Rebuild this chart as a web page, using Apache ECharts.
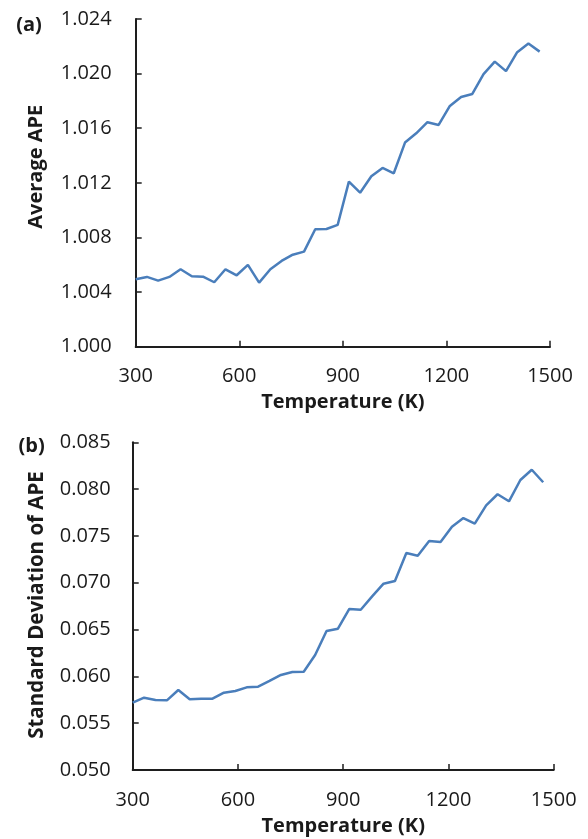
<!DOCTYPE html>
<html>
<head>
<meta charset="utf-8">
<script src="https://cdn.jsdelivr.net/npm/echarts@6/dist/echarts.min.js"></script>
<style>
html,body{margin:0;padding:0;background:#fff;}
#c{width:588px;height:839px;}
</style>
</head>
<body>
<div id="c"></div>
<script>
const temperatures = [300, 332.5, 365, 397.5, 430, 462.5, 495, 527.5, 560, 592.5, 625, 657.5, 690, 722.5, 755, 787.5, 820, 852.5, 885, 917.5, 950, 982.5, 1015, 1047.5, 1080, 1112.5, 1145, 1177.5, 1210, 1242.5, 1275, 1307.5, 1340, 1372.5, 1405, 1437.5, 1470];
const averageAPE = [1.00494, 1.00511, 1.00484, 1.00511, 1.00567, 1.00516, 1.00513, 1.00472, 1.00567, 1.00523, 1.00599, 1.00469, 1.00567, 1.00628, 1.00674, 1.00696, 1.00860, 1.00862, 1.00892, 1.01209, 1.01128, 1.01248, 1.01309, 1.01270, 1.01495, 1.01563, 1.01644, 1.01624, 1.01763, 1.01829, 1.01851, 1.01996, 1.02088, 1.02018, 1.02157, 1.02220, 1.02161];
const stdDevAPE = [0.05719, 0.05772, 0.05748, 0.05744, 0.05854, 0.05755, 0.05762, 0.05762, 0.05826, 0.05844, 0.05883, 0.05890, 0.05951, 0.06015, 0.06047, 0.06050, 0.06228, 0.06485, 0.06509, 0.06720, 0.06712, 0.06855, 0.06990, 0.07019, 0.07318, 0.07289, 0.07446, 0.07435, 0.07599, 0.07691, 0.07631, 0.07827, 0.07945, 0.07870, 0.08097, 0.08207, 0.08073];
const xTicks = [300, 600, 900, 1200, 1500];
const yTicksA = [1.000, 1.004, 1.008, 1.012, 1.016, 1.020, 1.024];
const yTicksB = [0.050, 0.055, 0.060, 0.065, 0.070, 0.075, 0.080, 0.085];

const FONT = 'Open Sans';
const AX = '#1e1e1e';
const TXT = '#1a1a1a';
const BLUE = '#4a7ebb';

function pairs(xs, ys){ return xs.map((x,i)=>[x, ys[i]]); }

function xAxisCfg(gi){
  return {
    gridIndex: gi, type:'value',
    min: xTicks[0], max: xTicks[xTicks.length-1], interval: xTicks[1]-xTicks[0],
    name: 'Temperature (K)', nameLocation:'middle', nameGap: 46,
    nameTextStyle:{fontFamily:FONT, fontSize:20, fontWeight:'bold', color:TXT},
    axisLine:{show:true, lineStyle:{color:AX, width:2}},
    axisTick:{show:true, inside:true, length:6, lineStyle:{color:AX, width:1.5}},
    axisLabel:{fontFamily:FONT, fontSize:20, color:TXT, margin:20, formatter:v=>String(v)},
    splitLine:{show:false}
  };
}
function yAxisCfg(gi, ticks, margin){
  return {
    gridIndex: gi, type:'value',
    min: ticks[0], max: ticks[ticks.length-1], interval: +(ticks[1]-ticks[0]).toFixed(6),
    axisLine:{show:true, lineStyle:{color:AX, width:2}},
    axisTick:{show:true, inside:true, length:6, lineStyle:{color:AX, width:1.5}},
    axisLabel:{fontFamily:FONT, fontSize:20, color:TXT, margin:margin, formatter:v=>v.toFixed(3)},
    splitLine:{show:false}
  };
}

const chart = echarts.init(document.getElementById('c'), null, {renderer:'canvas'});
chart.setOption({
  backgroundColor:'#fff',
  animation:false,
  grid:[
    {left:135.7, right:38, top:19, bottom:492.3},
    {left:132.7, right:34.3, top:442.3, bottom:69}
  ],
  xAxis:[xAxisCfg(0), xAxisCfg(1)],
  yAxis:[yAxisCfg(0, yTicksA, 24), yAxisCfg(1, yTicksB, 22)],
  series:[
    {type:'line', xAxisIndex:0, yAxisIndex:0, data:pairs(temperatures, averageAPE), showSymbol:false, lineStyle:{color:BLUE, width:2.5}, itemStyle:{color:BLUE}},
    {type:'line', xAxisIndex:1, yAxisIndex:1, data:pairs(temperatures, stdDevAPE), showSymbol:false, lineStyle:{color:BLUE, width:2.5}, itemStyle:{color:BLUE}}
  ],
  graphic:[
    {type:'text', x:36.7, y:166.7, rotation:Math.PI/2,
     style:{text:'Average APE', font:'bold 20px "Open Sans"', fill:TXT, align:'center', verticalAlign:'middle'}},
    {type:'text', x:36.7, y:605, rotation:Math.PI/2,
     style:{text:'Standard Deviation of APE', font:'bold 20.5px "Open Sans"', fill:TXT, align:'center', verticalAlign:'middle'}},
    {type:'text', x:29, y:25,
     style:{text:'(a)', font:'bold 20px "Open Sans"', fill:TXT, align:'center', verticalAlign:'middle'}},
    {type:'text', x:31.7, y:446.7,
     style:{text:'(b)', font:'bold 20px "Open Sans"', fill:TXT, align:'center', verticalAlign:'middle'}}
  ]
});
</script>
</body>
</html>
